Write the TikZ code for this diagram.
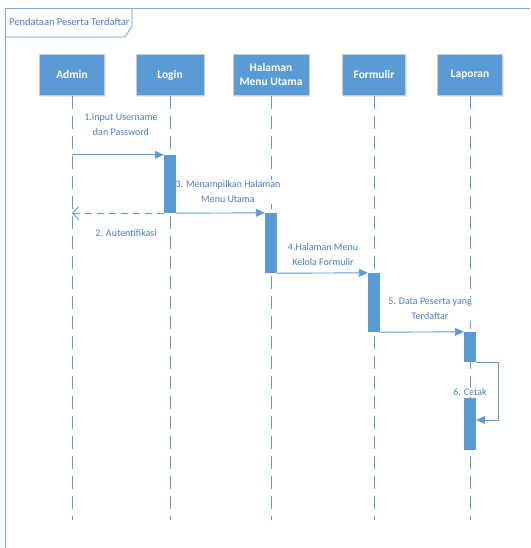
\documentclass[tikz,border=0pt]{standalone}
\usepackage{fontspec}
\setmainfont{Carlito}
\usepackage{xcolor}
\usepackage{tikz}
\usetikzlibrary{positioning,arrows.meta,shadows}

\definecolor{umlblue}{HTML}{5B9BD5}
\definecolor{umltext}{HTML}{4A7CC4}
\definecolor{umlframe}{HTML}{7FAEDB}

\begin{document}
\begin{tikzpicture}[
    x=1pt, y=-1pt,
    actor/.style={rectangle, draw=black!20, fill=umlblue, text=white, font=\fontsize{11.5}{14}\selectfont\bfseries, minimum width=65pt, minimum height=41pt, align=center, inner sep=1pt, drop shadow={opacity=0.18, shadow xshift=1pt, shadow yshift=-2pt}},
    lifeline/.style={umlblue, line width=0.9pt, dash pattern=on 13pt off 7pt},
    activation/.style={rectangle, fill=umlblue, minimum width=12pt, inner sep=0pt},
    msg/.style={umlblue, line width=0.9pt, -{Triangle[length=9pt,width=8pt]}},
    reply/.style={umlblue, line width=0.9pt, dash pattern=on 7pt off 5pt, -{Straight Barb[length=6pt,width=13pt]}},
    lbl/.style={font=\fontsize{10}{15}\selectfont, text=umltext, fill=white, inner sep=1pt, align=center}
]
\useasboundingbox (0,0) rectangle (530,548);

% Frame
\draw[umlframe, line width=0.9pt] (5,548) -- (5,8) -- (530,8);
\draw[umlblue, line width=0.7pt] (5,37) -- (125,37) -- (132,26) -- (132,8);
\node[anchor=west, font=\fontsize{10.5}{12}\selectfont, text=umltext, inner sep=0pt] (title) at (9,22) {Pendataan Peserta Terdaftar};

% Objects
\node[actor] (admin) at (72,75) {Admin};
\node[actor, minimum width=68pt] (login) at (170,75) {Login};
\node[actor, minimum width=76pt] (menu) at (271,75) {Halaman\\Menu Utama};
\node[actor, minimum width=63pt] (formulir) at (374,75) {Formulir};
\node[actor] (laporan) at (470,75) {Laporan};

% Lifelines
\foreach \obj in {admin,login,menu,formulir,laporan}
    \draw[lifeline] (\obj.south) -- ++(0,424) coordinate (\obj-end);

% Message labels (activations drawn over them)
\node[lbl] (l1) at (121,125) {1.Input Username\\dan Password};
\node[lbl] (l2) at (126,233) {2. Autentifikasi};
\node[lbl] (l3) at (228,192) {3. Menampilkan Halaman\\Menu Utama};
\node[lbl] (l4) at (323,255) {4.Halaman Menu\\Kelola Formulir};
\node[lbl] (l5) at (430,309) {5. Data Peserta yang\\Terdaftar};

% Activations
\node[activation, minimum height=58pt] (actlogin) at (170,184) {};
\node[activation, minimum height=60pt] (actmenu) at (271,243) {};
\node[activation, minimum height=59pt] (actform) at (374,302.5) {};
\node[activation, minimum height=30pt] (actlap) at (470,347) {};
\node[activation, minimum height=52pt] (actcetak) at (470,424) {};

% Messages
\draw[msg] (admin |- actlogin.north west) -- (actlogin.north west);
\draw[reply] (actlogin.south west) -- (admin |- actlogin.south west);
\draw[msg] (actlogin.south east) -- (actmenu.north west);
\draw[msg] (actmenu.south east) -- (actform.north west);
\draw[msg] (actform.south east) -- (actlap.north west);
\draw[msg] (actlap.south east) -- ++(22,0) |- ([yshift=4pt]actcetak.east);
\node[lbl] (cetak) at (470,392) {6. Cetak};

\end{tikzpicture}
\end{document}
